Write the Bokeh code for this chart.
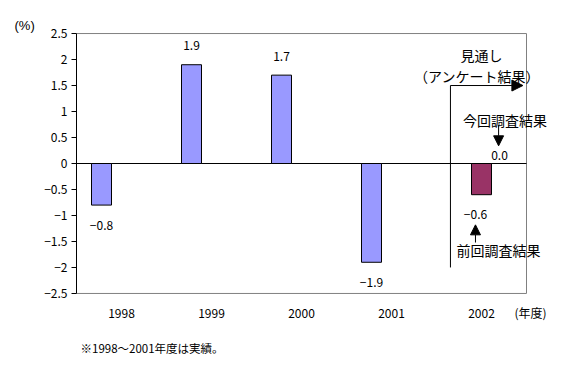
from bokeh.plotting import figure
from bokeh.models import (Range1d, FixedTicker, Label, Arrow, Title,
                          NormalHead, ColumnDataSource)
from bokeh.transform import dodge
from bokeh.core.properties import value
from bokeh.embed import file_html
from bokeh.resources import INLINE

# ---- data ----
years = ["1998", "1999", "2000", "2001", "2002"]
actual_years = ["1998", "1999", "2000", "2001"]
actual_values = [-0.8, 1.9, 1.7, -1.9]
prev_years = ["2002"]
prev_values = [-0.6]
curr_years = ["2002"]
curr_values = [0.0]
y_ticks = [-2.5, -2, -1.5, -1, -0.5, 0, 0.5, 1, 1.5, 2, 2.5]
y_tick_labels = ["−2.5", "−2", "−1.5", "−1", "−0.5", "0", "0.5", "1", "1.5", "2", "2.5"]
x_unit_label = "(年度)"
y_unit_label = "(%)"
footnote = "※1998～2001年度は実績。"

FONT = "Noto Sans CJK JP"
BAR_W = 0.2222
N = len(years)
X_END = N + 0.4          # room on the right for the annotations
Y_MIN, Y_MAX = -2.5, 2.5
PAD = 0.02

p = figure(width=580, height=380, x_range=Range1d(0, X_END),
           y_range=Range1d(Y_MIN - PAD, Y_MAX + PAD), output_backend="svg",
           toolbar_location=None,
           min_border_left=76, min_border_right=18, min_border_top=32, min_border_bottom=86)
p.background_fill_color = "white"
p.border_fill_color = "white"
p.outline_line_color = None
p.xgrid.visible = False
p.ygrid.visible = False

# y axis
p.yaxis.ticker = FixedTicker(ticks=y_ticks)
p.yaxis.major_label_overrides = {t: l for t, l in zip(y_ticks, y_tick_labels)}
p.yaxis.bounds = (Y_MIN, Y_MAX)
p.yaxis.axis_line_color = "black"
p.yaxis.major_tick_line_color = "black"
p.yaxis.major_tick_in = 0
p.yaxis.major_tick_out = 5
p.yaxis.minor_tick_line_color = None
p.yaxis.major_label_standoff = 4
p.yaxis.major_label_text_font = FONT
p.yaxis.major_label_text_font_size = "12px"
p.yaxis.major_label_text_color = "black"

# x axis: category centres + unit label
centres = [i + 0.5 for i in range(N)]
unit_pos = N + 0.044
p.xaxis.ticker = FixedTicker(ticks=centres + [unit_pos])
p.xaxis.major_label_overrides = dict(zip(centres + [unit_pos], years + [x_unit_label]))
p.xaxis.axis_line_color = None
p.xaxis.major_tick_line_color = None
p.xaxis.major_tick_in = 0
p.xaxis.major_tick_out = 0
p.xaxis.minor_tick_line_color = None
p.xaxis.minor_tick_out = 0
p.xaxis.major_label_standoff = 9
p.xaxis.major_label_text_font = FONT
p.xaxis.major_label_text_font_size = "12px"
p.xaxis.major_label_text_color = "black"

# plot-area border (gray) and zero line (black)
p.segment(x0=[0, N, 0], y0=[Y_MAX, Y_MIN, Y_MIN], x1=[N, N, N], y1=[Y_MAX, Y_MAX, Y_MIN],
          line_color="#808080", line_width=1)
p.segment(x0=[0], y0=[0], x1=[N], y1=[0], line_color="black", line_width=1)


# bars
def pos(ys):
    return [years.index(y) + 0.5 for y in ys]


src_a = ColumnDataSource(dict(x=pos(actual_years), y=actual_values))
src_p = ColumnDataSource(dict(x=pos(prev_years), y=prev_values))
p.vbar(x=dodge("x", -BAR_W), top="y", bottom=0, width=BAR_W,
       source=src_a, fill_color="#9999FF", line_color="black", line_width=1)
p.vbar(x=dodge("x", 0), top="y", bottom=0, width=BAR_W,
       source=src_p, fill_color="#993366", line_color="black", line_width=1)


def offs(v):
    if v > 0:
        return -19
    if v < 0:
        return 20
    return -8


def fmt(v):
    return f"{v:.1f}".replace("-", "−")


for ys, vs, d, xo in [(actual_years, actual_values, -BAR_W, 0),
                      (prev_years, prev_values, 0, -6),
                      (curr_years, curr_values, BAR_W, -2)]:
    s = ColumnDataSource(dict(x=pos(ys), y=vs, t=[fmt(v) for v in vs],
                              yo=[offs(v) for v in vs]))
    p.text(x=dodge("x", d), y="y", text="t", y_offset="yo",
           x_offset=xo, source=s, text_align="center", text_baseline="middle",
           text_font=value(FONT), text_font_size="12px", text_color="black")

# annotations around the 2002 forecast
cx = years.index("2002") + 0.5
p.segment(x0=[cx - 0.345], y0=[-2.0], x1=[cx - 0.345], y1=[1.5],
          line_color="black", line_width=1)
p.add_layout(Arrow(end=NormalHead(size=11, fill_color="black", line_color="black"),
                   x_start=cx - 0.345, y_start=1.5, x_end=cx + 0.46, y_end=1.5,
                   line_color="black", line_width=1))
p.add_layout(Arrow(end=NormalHead(size=10, fill_color="black", line_color="black"),
                   x_start=cx + 0.19, y_start=0.74, x_end=cx + 0.19, y_end=0.34,
                   line_color="black", line_width=1))
p.add_layout(Arrow(end=NormalHead(size=10, fill_color="black", line_color="black"),
                   x_start=cx - 0.067, y_start=-1.52, x_end=cx - 0.067, y_end=-1.18,
                   line_color="black", line_width=1))


def lab(x, y, text, size="14px"):
    p.add_layout(Label(x=x, y=y, text=text, text_align="center", text_baseline="middle",
                       text_font=FONT, text_font_size=size, text_color="black"))


lab(cx, 2.08, "見通し")
lab(cx - 0.05, 1.69, "（アンケート結果）")
lab(cx + 0.26, 0.83, "今回調査結果")
lab(cx + 0.19, -1.67, "前回調査結果")

p.add_layout(Title(text=y_unit_label, align="left", offset=-62, standoff=0,
                   text_font="Liberation Sans", text_font_size="13px",
                   text_font_style="normal", text_color="black"), "above")
p.add_layout(Title(text=footnote, align="left", offset=4, standoff=28,
                   text_font=FONT, text_font_size="11.5px", text_font_style="normal",
                   text_color="black"), "below")

open("out.html", "w").write(file_html(p, INLINE))
